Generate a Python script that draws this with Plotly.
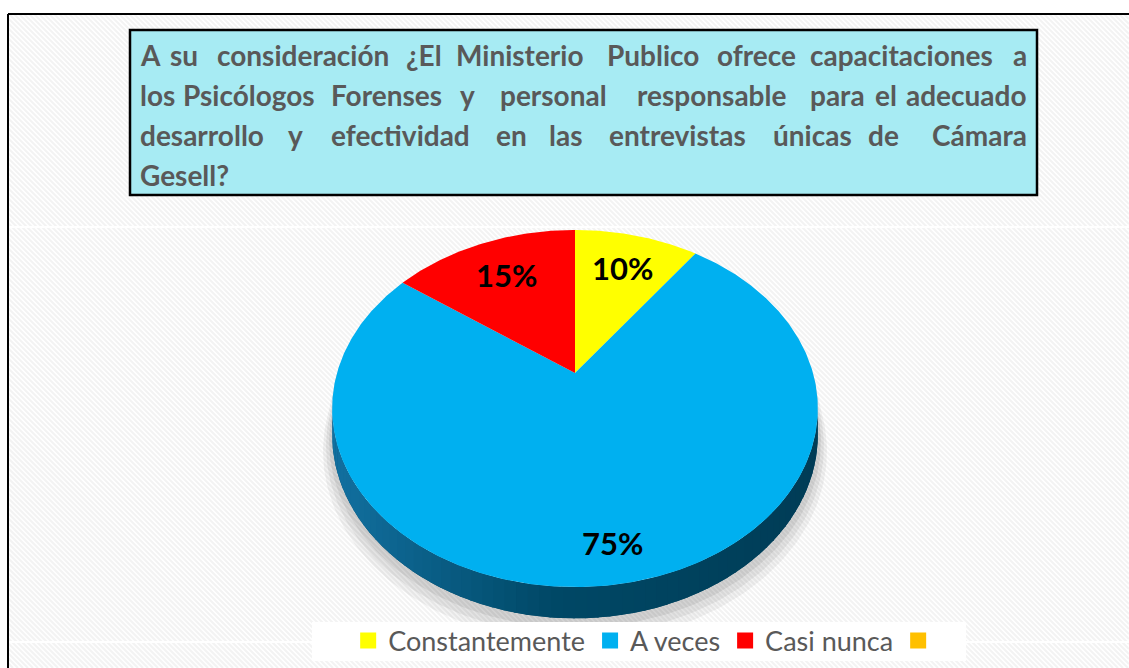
import math
import plotly.graph_objects as go

# ---------------- data ----------------
categories = ["Constantemente", "A veces", "Casi nunca", ""]
values = [10, 75, 15, 0]
slice_colors = ["#FFFF00", "#00B0F0", "#FF0000", "#FFC000"]
pct_labels = ["10%", "75%", "15%"]
title_lines = [
    "A su consideración ¿El Ministerio Publico ofrece capacitaciones a",
    "los Psicólogos Forenses y  personal responsable para el adecuado",
    "desarrollo y efectividad en las entrevistas únicas de Cámara",
    "Gesell?",
]

# ---------------- layout constants (pixel space) ----------------
W, H = 1129, 668
CX, CY = 575, 373          # pie vertex
SX, SY = 238, 171.5        # horizontal / vertical scale of the tilted disc
PERSP = 0.199              # perspective factor
DEPTH = 25                 # thickness of the 3D side
label_radius = [0.73, 0.84, 0.72]
TEXT_GREY = "#595959"
FONT = "Lato"


def proj(theta_deg, f=1.0):
    th = math.radians(theta_deg)
    u, v = f * math.sin(th), f * math.cos(th)
    w = 1.0 / (1.0 + PERSP * v)
    return CX + SX * u * w, CY - SY * v * w, w


def arc(a0, a1, n=120, f=1.0, drop=0.0):
    xs, ys = [], []
    for i in range(n + 1):
        a = a0 + (a1 - a0) * i / n
        x, y, w = proj(a, f)
        xs.append(x)
        ys.append(y + drop * w)
    return xs, ys


fig = go.Figure()

# ---------------- hatched background ----------------
hx, hy = [], []
x_left, y_top = 8, 14
c = x_left - (H - y_top)
while c < W:
    t0 = max(0, x_left - c)
    t1 = min(H - y_top, W - c)
    if t1 > t0:
        hx += [c + t0, c + t1, None]
        hy += [y_top + t0, y_top + t1, None]
    c += 5
fig.add_trace(go.Scatter(x=hx, y=hy, mode="lines", line=dict(color="#f3f3f3", width=2),
                         hoverinfo="skip", showlegend=False))
for yy in (227, 642):
    fig.add_trace(go.Scatter(x=[x_left, W], y=[yy, yy], mode="lines",
                             line=dict(color="white", width=2), hoverinfo="skip", showlegend=False))

# ---------------- shadow ----------------
vis0 = math.degrees(math.acos(-PERSP))
vis1 = 360 - vis0
for k, (off, op) in enumerate([(14, 0.05), (10, 0.06), (6, 0.07)]):
    bx, by = arc(vis0 - 12, vis1 + 12, n=160, f=1.0 + 0.012 * (3 - k), drop=DEPTH)
    by = [y + off for y in by]
    tx, ty = arc(vis1 + 12, vis0 - 12, n=160, f=1.0)
    fig.add_trace(go.Scatter(x=bx + tx, y=by + ty, fill="toself", mode="lines",
                             line=dict(width=0), fillcolor=f"rgba(0,0,0,{op})",
                             hoverinfo="skip", showlegend=False))

# ---------------- 3D side (front is A veces) ----------------
def side_color(x):
    t = (x - (CX - SX * 1.02)) / (2 * SX * 1.02)
    t = min(max(t, 0), 1)
    stops = [(0.0, (18, 112, 160)), (0.45, (0, 72, 102)), (1.0, (0, 60, 86))]
    for (t0, c0), (t1, c1) in zip(stops, stops[1:]):
        if t <= t1:
            r = (t - t0) / (t1 - t0)
            return "rgb(%d,%d,%d)" % tuple(round(a + (b - a) * r) for a, b in zip(c0, c1))
    return "rgb(0,60,86)"


tx, ty = arc(vis0 - 2, vis1 + 2, n=160)
bx, by = arc(vis1 + 2, vis0 - 2, n=160, drop=DEPTH)
fig.add_trace(go.Scatter(x=tx + bx, y=ty + by, fill="toself", mode="lines",
                         line=dict(width=0), fillcolor="rgb(0,72,102)",
                         hoverinfo="skip", showlegend=False))
NS = 70
for i in range(NS):
    a0 = vis0 - 2 + (vis1 - vis0 + 4) * i / NS
    a1 = vis0 - 2 + (vis1 - vis0 + 4) * (i + 1) / NS + 0.4
    tx, ty = arc(a0, a1, n=3)
    bx, by = arc(a1, a0, n=3, drop=DEPTH)
    col = side_color((tx[0] + tx[-1]) / 2)
    fig.add_trace(go.Scatter(x=tx + bx, y=ty + by, fill="toself", mode="lines",
                             line=dict(width=0), fillcolor=col,
                             hoverinfo="skip", showlegend=False))

# ---------------- top faces ----------------
total = sum(values)
start = 0.0
mids = []
for name, val, col in zip(categories, values, slice_colors):
    if val <= 0:
        continue
    span = 360.0 * val / total
    xs, ys = arc(start, start + span, n=max(8, int(span * 2)))
    fig.add_trace(go.Scatter(x=[CX] + xs + [CX], y=[CY] + ys + [CY], fill="toself", mode="lines",
                             line=dict(width=0, color=col), fillcolor=col, name=name,
                             hoverinfo="name", showlegend=False))
    mids.append(start + span / 2)
    start += span

for mid, txt, f in zip(mids, pct_labels, label_radius):
    x, y, _ = proj(mid, f)
    fig.add_annotation(x=x, y=y, text="<b>%s</b>" % txt, showarrow=False,
                       font=dict(family=FONT, size=31, color="black"),
                       xanchor="center", yanchor="middle")

# ---------------- legend entries ----------------
for name, col in zip(categories, slice_colors):
    fig.add_trace(go.Scatter(x=[None], y=[None], mode="markers", name=name if name else " ",
                             marker=dict(symbol="square", size=17, color=col)))

# legend backdrop band
fig.add_shape(type="rect", x0=312, x1=966, y0=622, y1=661, xref="x", yref="y",
              fillcolor="white", line=dict(width=0), layer="above")

# ---------------- title box (justified text, word by word) ----------------
fig.add_shape(type="rect", x0=130, x1=1037, y0=30, y1=195, xref="x", yref="y",
              fillcolor="#A7EBF3", line=dict(color="black", width=2.5), layer="above")

TXT_L, TXT_R = 138, 1029
word_centres = [
    [147.5, 184, 302.5, 423.5, 519.5, 652.5, 756, 901.5, 1018],
    [155.5, 248.5, 386.5, 467.5, 553, 711, 837.5, 886, 965],
    [204, 295, 400, 511, 565, 677.5, 812.5, 883.5, 978],
]
line_y = [55, 95, 135, 175]
tfont = dict(family=FONT, size=28, color=TEXT_GREY)
for li, line in enumerate(title_lines):
    words = line.split()
    if li < 3:
        n = len(words)
        for wi, (wd, xc) in enumerate(zip(words, word_centres[li])):
            if wi == 0:
                x, anc = TXT_L, "left"
            elif wi == n - 1:
                x, anc = TXT_R, "right"
            else:
                x, anc = xc, "center"
            fig.add_annotation(x=x, y=line_y[li], text="<b>%s</b>" % wd, showarrow=False,
                               xanchor=anc, yanchor="middle", font=tfont)
    else:
        fig.add_annotation(x=TXT_L, y=line_y[li], text="<b>%s</b>" % line, showarrow=False,
                           xanchor="left", yanchor="middle", font=tfont)

# ---------------- frame ----------------
fig.add_shape(type="line", x0=8, x1=8, y0=14, y1=H, xref="x", yref="y",
              line=dict(color="black", width=2))
fig.add_shape(type="line", x0=8, x1=W, y0=14, y1=14, xref="x", yref="y",
              line=dict(color="black", width=2))

fig.update_layout(
    width=W, height=H, autosize=False,
    margin=dict(l=0, r=0, t=0, b=0),
    paper_bgcolor="white", plot_bgcolor="white",
    xaxis=dict(range=[0, W], visible=False, fixedrange=True),
    yaxis=dict(range=[H, 0], visible=False, fixedrange=True),
    showlegend=True,
    legend=dict(orientation="h", x=0.575, y=1 - 641 / H, xanchor="center", yanchor="middle",
                bgcolor="rgba(0,0,0,0)", font=dict(family=FONT, size=27, color=TEXT_GREY),
                itemclick=False, itemdoubleclick=False),
    font=dict(family=FONT),
)

fig.write_html("out.html", config={"displayModeBar": False},
               post_script="document.body.style.margin='0';")
